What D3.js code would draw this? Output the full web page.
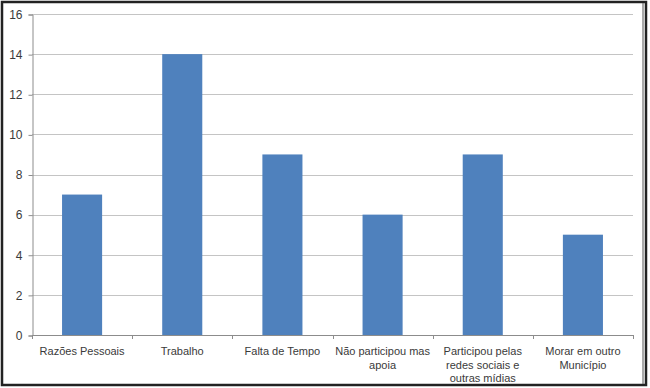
<!DOCTYPE html>
<html>
<head>
<meta charset="utf-8">
<script src="https://cdn.jsdelivr.net/npm/d3@7"></script>
<style>
  body { margin: 0; background: #fff; }
  svg { display: block; font-family: "Liberation Sans", Arial, sans-serif; }
</style>
</head>
<body>
<div id="chart"></div>
<script>
// chart values
const categories = [
  ["Razões Pessoais"],
  ["Trabalho"],
  ["Falta de Tempo"],
  ["Não participou mas", "apoia"],
  ["Participou pelas", "redes sociais e", "outras mídias"],
  ["Morar em outro", "Município"]
];
const values = [7, 14, 9, 6, 9, 5];
const yTicks = [0, 2, 4, 6, 8, 10, 12, 14, 16];

let width = 650, height = 388;
let plotLeft = 32, plotRight = 633, plotTop = 14, plotBottom = 335;

let svg = d3.select("#chart").append("svg")
  .attr("width", width)
  .attr("height", height);

// outer frame
svg.append("rect").attr("x", 2).attr("y", 2).attr("width", 644).attr("height", 383)
  .attr("fill", "none").attr("stroke", "#222").attr("stroke-width", 2.5);
svg.append("line").attr("x1", 643).attr("x2", 643).attr("y1", 3).attr("y2", 384)
  .attr("stroke", "#555").attr("stroke-width", 1);

let x = d3.scaleBand().domain(d3.range(categories.length)).range([plotLeft, plotRight])
  .paddingInner(0.6).paddingOuter(0.3);
let y = d3.scaleLinear().domain([0, 16]).range([plotBottom, plotTop]);

// gridlines
svg.append("g").selectAll("line").data(yTicks.filter(d => d > 0)).enter().append("line")
  .attr("x1", plotLeft).attr("x2", plotRight)
  .attr("y1", d => Math.round(y(d)) + 0.5).attr("y2", d => Math.round(y(d)) + 0.5)
  .attr("stroke", "#c4c4c4");

// y axis
let yAxis = svg.append("g").attr("transform", `translate(${plotLeft + 0.5},0.5)`)
  .call(d3.axisLeft(y).tickValues(yTicks).tickSize(4).tickPadding(6));
yAxis.select(".domain").attr("stroke", "#8c8c8c");
yAxis.selectAll(".tick line").attr("stroke", "#8c8c8c");
yAxis.selectAll(".tick text").attr("font-size", 12).attr("fill", "#3a3a3a")
  .attr("font-family", "Liberation Sans, Arial, sans-serif");

// bars
svg.selectAll(".bar").data(values).enter().append("rect")
  .attr("class", "bar")
  .attr("x", (d, i) => x(i))
  .attr("y", d => y(d))
  .attr("width", x.bandwidth())
  .attr("height", d => plotBottom - y(d))
  .attr("fill", "#4f81bd");

// x axis line and ticks at band edges
let edges = d3.range(categories.length + 1).map(i => plotLeft + i * (plotRight - plotLeft) / categories.length);
svg.append("line").attr("x1", plotLeft).attr("x2", plotRight)
  .attr("y1", plotBottom + 0.5).attr("y2", plotBottom + 0.5).attr("stroke", "#8c8c8c");
svg.append("g").selectAll("line").data(edges).enter().append("line")
  .attr("x1", d => Math.round(d) + 0.5).attr("x2", d => Math.round(d) + 0.5)
  .attr("y1", plotBottom).attr("y2", plotBottom + 4).attr("stroke", "#8c8c8c");

// category labels
let labels = svg.append("g").selectAll("text").data(categories).enter().append("text")
  .attr("x", (d, i) => x(i) + x.bandwidth() / 2)
  .attr("y", 355)
  .attr("text-anchor", "middle")
  .attr("font-size", 11)
  .attr("fill", "#3a3a3a");
labels.selectAll("tspan").data(d => d).enter().append("tspan")
  .attr("x", function () { return d3.select(this.parentNode).attr("x"); })
  .attr("dy", (d, i) => i === 0 ? 0 : 13.5)
  .text(d => d);
</script>
</body>
</html>
